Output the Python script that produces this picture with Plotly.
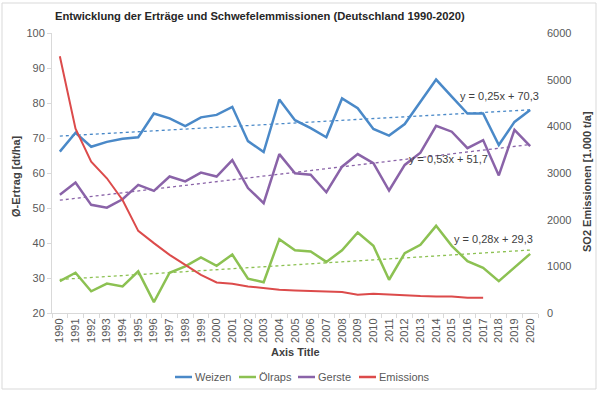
import plotly.graph_objects as go

years = [str(y) for y in range(1990, 2021)]

weizen = [66.1, 71.5, 67.5, 68.9, 69.8, 70.2, 77.0, 75.6, 73.4, 75.9, 76.6, 78.9, 69.1, 66.0, 81.0, 75.1,
          72.8, 70.2, 81.3, 78.5, 72.6, 70.7, 74.0, 80.3, 86.7, 81.8, 77.0, 77.0, 68.0, 74.6, 78.0]
oelraps = [29.1, 31.5, 26.2, 28.4, 27.6, 31.9, 23.1, 31.5, 33.3, 35.9, 33.5, 36.7, 29.8, 28.8, 41.1, 37.9,
           37.6, 34.6, 37.9, 43.0, 39.2, 29.5, 37.1, 39.5, 44.9, 39.2, 34.8, 32.9, 29.1, 32.9, 36.9]
gerste = [53.8, 57.3, 50.9, 50.1, 52.5, 56.6, 54.9, 59.0, 57.6, 60.1, 59.0, 63.7, 55.7, 51.4, 65.4, 59.9,
          59.5, 54.5, 61.8, 65.4, 62.8, 55.0, 62.3, 65.8, 73.5, 71.8, 67.1, 69.4, 59.3, 72.3, 67.7]
emissions = [5502, 3950, 3242, 2887, 2423, 1760, 1497, 1247, 1033, 819, 654, 627, 569, 534, 498, 483,
             477, 462, 449, 391, 413, 391, 376, 363, 355, 355, 327, 327, None, None, None]

# Trendline equations as shown in the chart (x = 1..31)
trend_slopes = [0.25, 0.28, 0.53]
trend_intercepts = [70.3, 29.3, 51.7]
trend_labels = ["y = 0,25x + 70,3", "y = 0,28x + 29,3", "y = 0,53x + 51,7"]

series_names = ["Weizen", "Ölraps", "Gerste", "Emissions"]

c_blue = "#4a89c8"
c_green = "#8cc152"
c_purple = "#8a63a8"
c_red = "#dc4b4b"
colors = [c_blue, c_green, c_purple]

FONT = "Liberation Sans, Arial, sans-serif"
GRAY = "#595959"

fig = go.Figure()

for name, vals, col in zip(series_names[:3], [weizen, oelraps, gerste], colors):
    fig.add_trace(go.Scatter(x=years, y=vals, name=name, mode="lines",
                             line=dict(color=col, width=2.5), showlegend=False))

fig.add_trace(go.Scatter(x=years, y=emissions, name=series_names[3], mode="lines",
                         line=dict(color=c_red, width=2), yaxis="y2", connectgaps=False,
                         showlegend=False))

for s, b, col in zip(trend_slopes, trend_intercepts, colors):
    xs = list(range(1, len(years) + 1))
    ys = [s * x + b for x in xs]
    fig.add_trace(go.Scatter(x=years, y=ys, mode="lines", showlegend=False, hoverinfo="skip",
                             line=dict(color=col, width=1.3, dash="dot")))

# plot area in pixels: x 52..538, y 33..313
L, R, T, B = 52, 538, 33, 313
W, H = R - L, B - T


def px(x):
    return (x - L) / W


def py(y):
    return (B - y) / H


annotations = []
for (xx, yy), txt in zip([(499, 96), (493, 239), (448, 159)], trend_labels):
    annotations.append(dict(x=px(xx), y=py(yy), xref="paper", yref="paper", showarrow=False,
                            text=txt, font=dict(family=FONT, size=11, color="#404040"),
                            xanchor="center", yanchor="middle"))

annotations += [
    dict(x=px(16), y=py(176), xref="paper", yref="paper", showarrow=False, textangle=-90,
         text="<b>Ø-Ertrag [dt/ha]</b>", font=dict(family=FONT, size=11, color="#404040"),
         xanchor="center", yanchor="middle"),
    dict(x=px(587), y=py(182), xref="paper", yref="paper", showarrow=False, textangle=-90,
         text="<b>SO2 Emissionen [1.000 t/a]</b>", font=dict(family=FONT, size=11, color="#404040"),
         xanchor="center", yanchor="middle"),
    dict(x=px(295), y=py(352), xref="paper", yref="paper", showarrow=False,
         text="<b>Axis Title</b>", font=dict(family=FONT, size=11, color="#404040"),
         xanchor="center", yanchor="middle"),
    dict(x=px(260), y=py(16), xref="paper", yref="paper", showarrow=False,
         text="<b>Entwicklung der Erträge und Schwefelemmissionen (Deutschland 1990-2020)</b>",
         font=dict(family=FONT, size=11.2, color="#262626"),
         xanchor="center", yanchor="middle"),
]

shapes = [dict(type="rect", xref="paper", yref="paper", x0=px(2), x1=px(596), y0=py(389), y1=py(3),
               line=dict(color="#d9d9d9", width=1), fillcolor="rgba(0,0,0,0)", layer="below")]

# manual legend (compact, like the original)
legend_x = [175, 239, 298, 359]
legend_cols = [c_blue, c_green, c_purple, c_red]
for lx, name, col in zip(legend_x, series_names, legend_cols):
    shapes.append(dict(type="line", xref="paper", yref="paper", x0=px(lx), x1=px(lx + 17),
                       y0=py(377), y1=py(377), line=dict(color=col, width=2.5)))
    annotations.append(dict(x=px(lx + 18), y=py(377), xref="paper", yref="paper", showarrow=False,
                            text=name, font=dict(family=FONT, size=11, color=GRAY),
                            xanchor="left", yanchor="middle"))

fig.update_layout(
    template="none",
    width=600, height=394,
    margin=dict(l=L, r=600 - R, t=T, b=394 - B, autoexpand=False),
    paper_bgcolor="white", plot_bgcolor="white",
    font=dict(family=FONT, size=11, color=GRAY),
    showlegend=False,
    xaxis=dict(type="category", range=[-0.5, len(years) - 0.5], tickangle=-90,
               showline=True, linecolor="#d9d9d9", linewidth=1, ticks="outside",
               tickson="boundaries", ticklen=4, tickcolor="#d9d9d9", showgrid=False,
               zeroline=False, color=GRAY, tickfont=dict(size=11, color=GRAY)),
    yaxis=dict(range=[20, 100], dtick=10, showline=True, linecolor="#d9d9d9", linewidth=1,
               ticks="outside", ticklen=4, tickcolor="#d9d9d9", showgrid=False, zeroline=False,
               color=GRAY, tickfont=dict(size=11, color=GRAY)),
    yaxis2=dict(range=[0, 6000], dtick=1000, overlaying="y", side="right", showline=False,
                showgrid=False, zeroline=False, ticks="", ticklabelstandoff=8,
                color=GRAY, tickfont=dict(size=11, color=GRAY)),
    annotations=annotations,
    shapes=shapes,
)

fig.write_html("out.html", config={"displayModeBar": False},
               post_script="document.body.style.margin='0';")
